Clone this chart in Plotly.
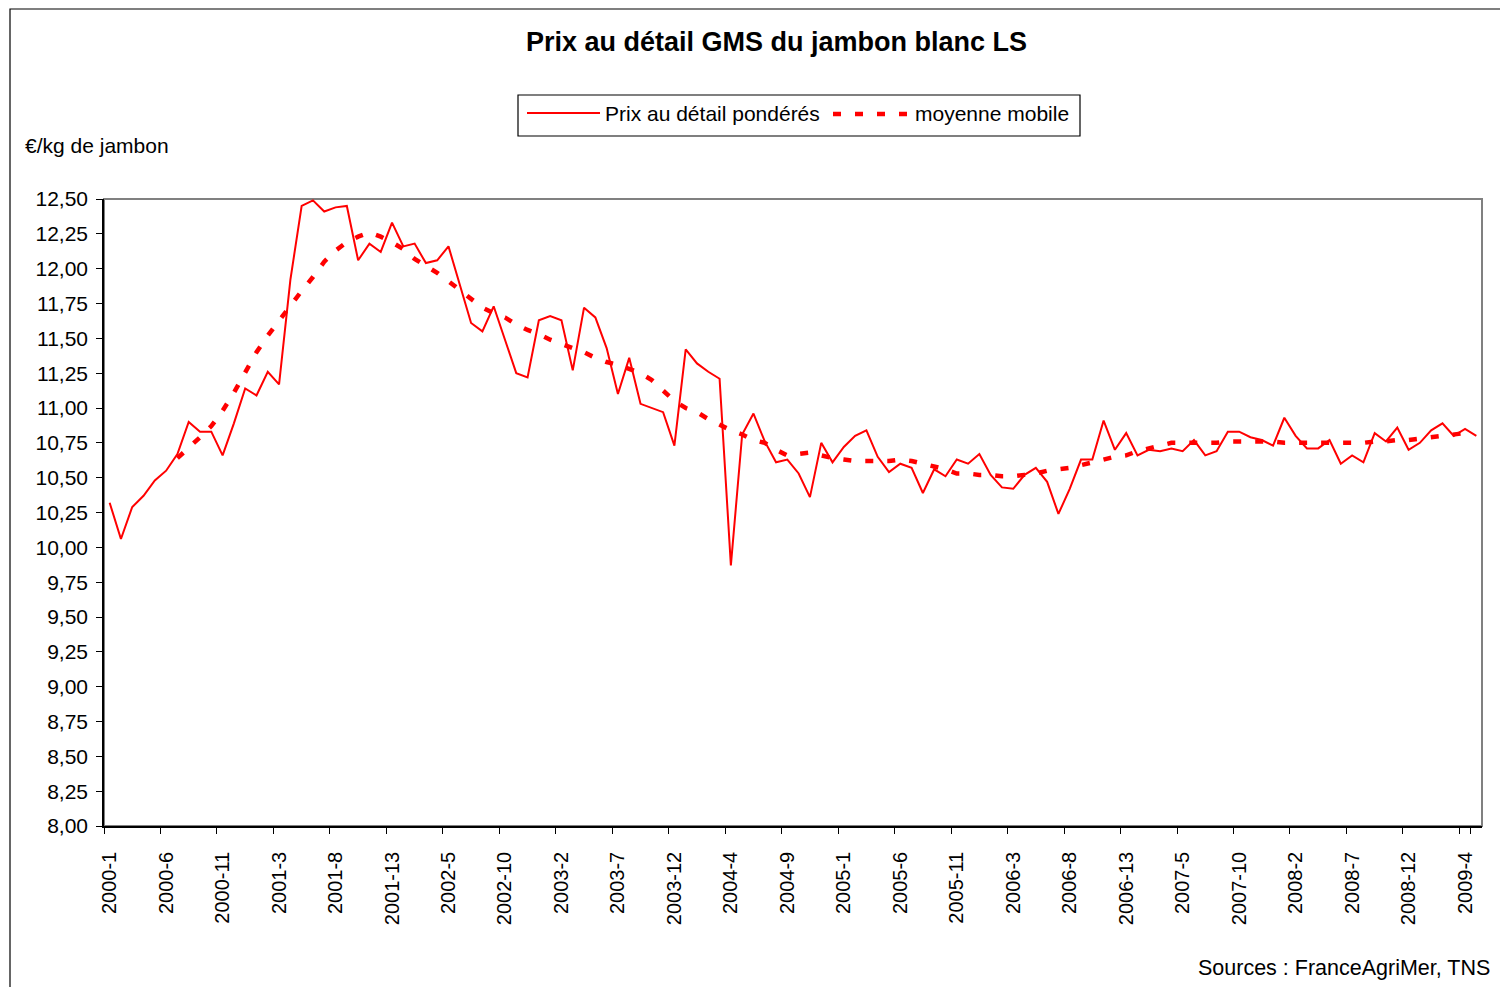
import plotly.graph_objects as go

# ---------------- data ----------------
periods = [f"{y}-{p}" for y in range(2000, 2010) for p in range(1, 14)][:122]

prix = [
    10.32, 10.06, 10.29, 10.37, 10.48, 10.55, 10.67, 10.90, 10.83, 10.83,
    10.66, 10.89, 11.14, 11.09, 11.26, 11.17, 11.92, 12.45, 12.49, 12.41,
    12.44, 12.45, 12.06, 12.18, 12.12, 12.33, 12.16, 12.18, 12.04, 12.06,
    12.16, 11.89, 11.61, 11.55, 11.73, 11.49, 11.25, 11.22, 11.63, 11.66,
    11.63, 11.27, 11.72, 11.65, 11.43, 11.10, 11.36, 11.03, 11.00, 10.97,
    10.73, 11.42, 11.32, 11.26, 11.21, 9.87, 10.81, 10.96, 10.76, 10.61,
    10.63, 10.53, 10.36, 10.75, 10.61, 10.72, 10.80, 10.84, 10.65, 10.54,
    10.60, 10.57, 10.39, 10.56, 10.51, 10.63, 10.60, 10.67, 10.52, 10.43,
    10.42, 10.52, 10.57, 10.47, 10.24, 10.42, 10.63, 10.63, 10.91, 10.70,
    10.82, 10.66, 10.70, 10.69, 10.71, 10.69, 10.77, 10.66, 10.69, 10.83,
    10.83, 10.79, 10.77, 10.73, 10.93, 10.80, 10.71, 10.71, 10.77, 10.60,
    10.66, 10.61, 10.82, 10.76, 10.86, 10.70, 10.75, 10.84, 10.89, 10.80,
    10.85, 10.80,
]

moyenne_periods = periods[6:121]
moyenne = [
    10.64, 10.71, 10.79, 10.87, 10.98, 11.11, 11.25, 11.40, 11.52, 11.63,
    11.74, 11.84, 11.94, 12.05, 12.13, 12.19, 12.23, 12.26, 12.23, 12.19,
    12.14, 12.07, 12.02, 11.97, 11.91, 11.85, 11.78, 11.72, 11.68, 11.65,
    11.60, 11.56, 11.53, 11.49, 11.46, 11.43, 11.40, 11.36, 11.33, 11.31,
    11.28, 11.25, 11.20, 11.12, 11.05, 11.00, 10.97, 10.92, 10.88, 10.84,
    10.81, 10.77, 10.75, 10.70, 10.66, 10.67, 10.68, 10.66, 10.64, 10.63,
    10.62, 10.62, 10.62, 10.62, 10.63, 10.62, 10.60, 10.58, 10.56, 10.53,
    10.53, 10.52, 10.52, 10.51, 10.51, 10.52, 10.53, 10.55, 10.56, 10.57,
    10.59, 10.61, 10.63, 10.65, 10.66, 10.69, 10.71, 10.73, 10.75, 10.75,
    10.75, 10.75, 10.75, 10.76, 10.76, 10.76, 10.76, 10.76, 10.75, 10.75,
    10.75, 10.75, 10.75, 10.75, 10.75, 10.75, 10.76, 10.76, 10.77, 10.77,
    10.78, 10.79, 10.80, 10.81, 10.82,
]

tick_labels = periods[::5]

title_text = "Prix au détail GMS du jambon blanc LS"
name_prix = "Prix au détail pondérés"
name_moy = "moyenne mobile"
y_title = "€/kg de jambon"
source_text = "Sources : FranceAgriMer, TNS"

# ---------------- layout helpers ----------------
OFF = 8                      # page body margin
W, H = 1492, 979             # figure size (fits the window with body margin)
SL, SR, ST, SB = 104, 1482, 199, 826   # plot area in screen pixels
L, R, T, B = SL - OFF, SR - OFF, ST - OFF, SB - OFF
FONT = "Liberation Sans, Arial, sans-serif"
RED = "#FF0000"
DOT = "8px,14px"


def xp(px):
    """screen x pixel -> paper coordinate"""
    return (px - SL) / (SR - SL)


def yp(py):
    """screen y pixel -> paper coordinate"""
    return (SB - py) / (SB - ST)


fig = go.Figure()
fig.add_trace(go.Scatter(
    x=periods, y=prix, mode="lines", name=name_prix,
    line=dict(color=RED, width=2), showlegend=False,
))
fig.add_trace(go.Scatter(
    x=moyenne_periods, y=moyenne, mode="lines", name=name_moy,
    line=dict(color=RED, width=4.5, dash=DOT), showlegend=False,
))

shapes = [
    dict(type="rect", xref="paper", yref="paper", x0=0, x1=1, y0=0, y1=1,
         line=dict(color="#808080", width=2), layer="below"),
    dict(type="rect", xref="paper", yref="paper", x0=xp(10), x1=xp(1530),
         y0=yp(1020), y1=yp(9), line=dict(color="black", width=1.2), layer="below"),
    dict(type="rect", xref="paper", yref="paper", x0=xp(518), x1=xp(1080),
         y0=yp(136), y1=yp(95), line=dict(color="black", width=1.2), layer="above"),
    dict(type="line", xref="paper", yref="paper", x0=xp(527), x1=xp(600),
         y0=yp(113), y1=yp(113), line=dict(color=RED, width=2)),
    dict(type="line", xref="paper", yref="paper", x0=xp(833), x1=xp(912),
         y0=yp(114), y1=yp(114), line=dict(color=RED, width=4.5, dash=DOT)),
]

annotations = [
    dict(text=f"<b>{title_text}</b>", x=xp(776), y=yp(42), xref="paper", yref="paper",
         xanchor="center", yanchor="middle", showarrow=False,
         font=dict(family=FONT, size=27, color="black")),
    dict(text=name_prix, x=xp(603), y=yp(113), xref="paper", yref="paper",
         xanchor="left", yanchor="middle", showarrow=False,
         font=dict(family=FONT, size=21, color="black")),
    dict(text=name_moy, x=xp(913), y=yp(113), xref="paper", yref="paper",
         xanchor="left", yanchor="middle", showarrow=False,
         font=dict(family=FONT, size=21, color="black")),
    dict(text=y_title, x=xp(23), y=yp(145), xref="paper", yref="paper",
         xanchor="left", yanchor="middle", showarrow=False,
         font=dict(family=FONT, size=21, color="black")),
    dict(text=source_text, x=xp(1492), y=yp(968), xref="paper", yref="paper",
         xanchor="right", yanchor="middle", showarrow=False,
         font=dict(family=FONT, size=21.5, color="black")),
]

fig.update_layout(
    width=W, height=H,
    margin=dict(l=L, r=W - R, t=T, b=H - B, pad=0),
    paper_bgcolor="white", plot_bgcolor="white",
    separators=", ",
    showlegend=False,
    font=dict(family=FONT, size=20, color="black"),
    shapes=shapes, annotations=annotations,
    xaxis=dict(
        type="category", categoryorder="array", categoryarray=periods,
        range=[-0.5, len(periods) - 0.5], autorange=False,
        tickmode="array", tickvals=tick_labels, ticktext=tick_labels,
        tickson="boundaries", ticks="outside", ticklen=6, tickwidth=1, tickcolor="black",
        tickangle=-90, tickfont=dict(family=FONT, size=20, color="black"),
        ticklabelstandoff=16,
        showline=True, linecolor="black", linewidth=1.5,
        showgrid=False, zeroline=False, automargin=False,
    ),
    yaxis=dict(
        range=[8, 12.5], autorange=False, tick0=8, dtick=0.25, tickformat=".2f",
        ticks="outside", ticklen=6, tickwidth=1, tickcolor="black",
        tickfont=dict(family=FONT, size=21, color="black"),
        ticklabelstandoff=4,
        showline=True, linecolor="black", linewidth=1.5,
        showgrid=False, zeroline=False, automargin=False,
    ),
)

fig.write_html("out.html")
